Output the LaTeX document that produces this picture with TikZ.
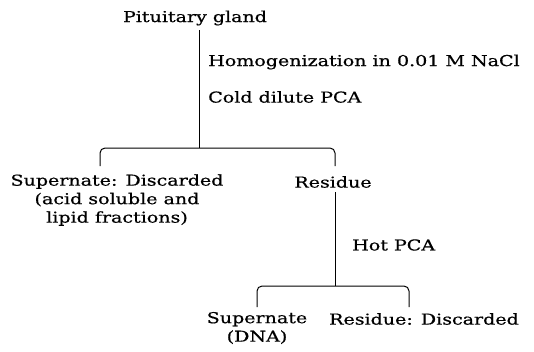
\documentclass[tikz,border=0pt]{standalone}
\usepackage{fontspec}
\setmainfont{DejaVu Serif}[FakeStretch=1.27,FakeBold=0.6]
\begin{document}
\begin{tikzpicture}[x=1pt,y=-1pt,
  txt/.style={inner sep=0pt, font=\fontsize{15}{18.5}\selectfont},
  ln/.style={line width=1pt},
  br/.style={ln, rounded corners=5pt}]
\useasboundingbox (0,0) rectangle (534,351);
% texts
\node[txt] (pg) at (195,18) {Pituitary gland};
\node[txt,anchor=west] (hom) at (208,62) {Homogenization in 0.01 M NaCl};
\node[txt,anchor=west] (cold) at (208,97) {Cold dilute PCA};
\node[txt,align=center] (sup1) at (117,200) {Supernate: Discarded\\(acid soluble and\\lipid fractions)};
\node[txt] (res1) at (333,182) {Residue};
\node[txt,anchor=west] (hot) at (352,245) {Hot PCA};
\node[txt,align=center] (sup2) at (257,328) {Supernate\\(DNA)};
\node[txt] (res2) at (424,319) {Residue: Discarded};
% coordinates
\coordinate (top1) at (199,30);
\coordinate (j1) at (199,148);
\coordinate (bl1) at (100,166);
\coordinate (br1) at (335,166);
\coordinate (top2) at (335,192);
\coordinate (j2) at (335,286);
\coordinate (bl2) at (257,307);
\coordinate (br2) at (409,307);
% lines
\draw[ln] (top1) -- (j1);
\draw[br] (bl1) |- (j1) -| (br1);
\draw[ln] (top2) -- (j2);
\draw[br] (bl2) |- (j2) -| (br2);
\end{tikzpicture}
\end{document}
